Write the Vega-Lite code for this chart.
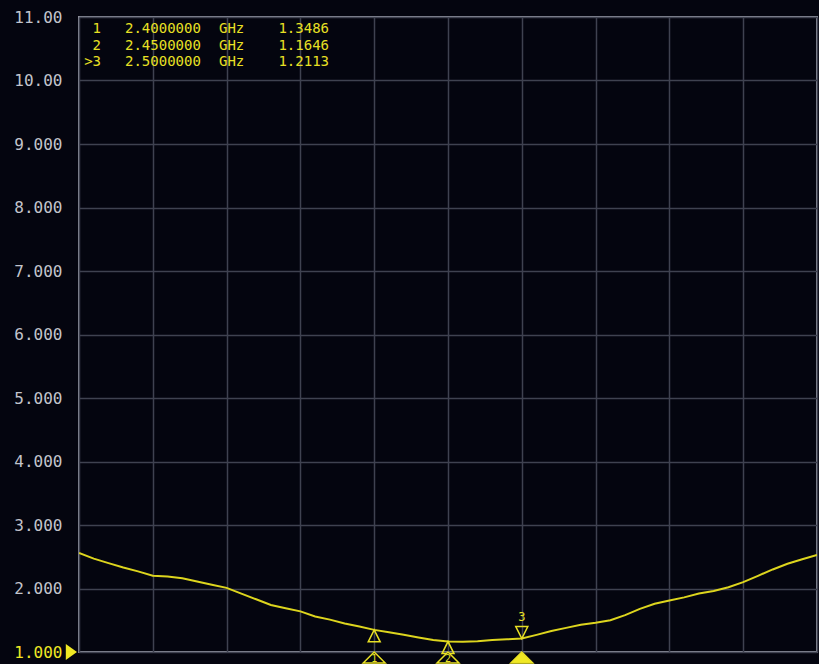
{
  "$schema": "https://vega.github.io/schema/vega-lite/v6.json",
  "width": 738,
  "height": 635,
  "autosize": {"type": "none"},
  "padding": {"left": 79, "top": 17, "right": 2, "bottom": 12},
  "background": "#04050f",
  "config": {
    "view": {"stroke": "#8e909c", "strokeWidth": 2, "fill": "#04050f"},
    "axis": {"gridColor": "#3f4250", "gridWidth": 1.5, "gridOpacity": 1}
  },
  "datasets": {
    "curve": [
      {"freq": 2.20, "swr": 2.56}, {"freq": 2.21, "swr": 2.47}, {"freq": 2.22, "swr": 2.40},
      {"freq": 2.23, "swr": 2.33}, {"freq": 2.24, "swr": 2.27}, {"freq": 2.25, "swr": 2.20},
      {"freq": 2.26, "swr": 2.19}, {"freq": 2.27, "swr": 2.16}, {"freq": 2.28, "swr": 2.11},
      {"freq": 2.29, "swr": 2.06}, {"freq": 2.30, "swr": 2.01}, {"freq": 2.31, "swr": 1.92},
      {"freq": 2.32, "swr": 1.83}, {"freq": 2.33, "swr": 1.74}, {"freq": 2.34, "swr": 1.69},
      {"freq": 2.35, "swr": 1.64}, {"freq": 2.36, "swr": 1.56}, {"freq": 2.37, "swr": 1.51},
      {"freq": 2.38, "swr": 1.45}, {"freq": 2.39, "swr": 1.40}, {"freq": 2.40, "swr": 1.3486},
      {"freq": 2.41, "swr": 1.31}, {"freq": 2.42, "swr": 1.27}, {"freq": 2.43, "swr": 1.23},
      {"freq": 2.44, "swr": 1.19}, {"freq": 2.45, "swr": 1.1646}, {"freq": 2.46, "swr": 1.16},
      {"freq": 2.47, "swr": 1.17}, {"freq": 2.48, "swr": 1.19}, {"freq": 2.49, "swr": 1.20},
      {"freq": 2.50, "swr": 1.2113}, {"freq": 2.51, "swr": 1.27}, {"freq": 2.52, "swr": 1.33},
      {"freq": 2.53, "swr": 1.38}, {"freq": 2.54, "swr": 1.43}, {"freq": 2.55, "swr": 1.46},
      {"freq": 2.56, "swr": 1.50}, {"freq": 2.57, "swr": 1.58}, {"freq": 2.58, "swr": 1.68},
      {"freq": 2.59, "swr": 1.76}, {"freq": 2.60, "swr": 1.81}, {"freq": 2.61, "swr": 1.86},
      {"freq": 2.62, "swr": 1.92}, {"freq": 2.63, "swr": 1.96}, {"freq": 2.64, "swr": 2.02},
      {"freq": 2.65, "swr": 2.10}, {"freq": 2.66, "swr": 2.20}, {"freq": 2.67, "swr": 2.30},
      {"freq": 2.68, "swr": 2.39}, {"freq": 2.69, "swr": 2.46}, {"freq": 2.70, "swr": 2.53}
    ],
    "markers": [
      {"m": "1", "label": "1", "freq": 2.40, "swr": 1.3486, "active": false},
      {"m": "2", "label": "2", "freq": 2.45, "swr": 1.1646, "active": false},
      {"m": "3", "label": ">3", "freq": 2.50, "swr": 1.2113, "active": true}
    ],
    "reference": [{"ref": 1}]
  },
  "resolve": {"scale": {"y": "independent"}},
  "layer": [
    {
      "data": {"name": "curve"},
      "mark": {"type": "line", "color": "#ddd51e", "strokeWidth": 2, "clip": true},
      "encoding": {
        "x": {
          "field": "freq", "type": "quantitative",
          "scale": {"domain": [2.2, 2.7], "nice": false, "zero": false},
          "axis": {"values": [2.2, 2.25, 2.3, 2.35, 2.4, 2.45, 2.5, 2.55, 2.6, 2.65, 2.7],
                   "labels": false, "ticks": false, "domain": false, "title": null, "grid": true}
        },
        "y": {
          "field": "swr", "type": "quantitative",
          "scale": {"domain": [1, 11], "nice": false, "zero": false},
          "axis": {
            "values": [1, 2, 3, 4, 5, 6, 7, 8, 9, 10, 11],
            "labelExpr": "datum.value >= 10 ? format(datum.value, '.2f') : format(datum.value, '.3f')",
            "labelFont": "DejaVu Sans Mono", "labelFontSize": 16,
            "labelColor": {"condition": {"test": "datum.value == 1", "value": "#f0e824"}, "value": "#c2c4cc"},
            "labelPadding": 17, "ticks": false, "domain": false, "title": null, "grid": true
          }
        }
      }
    },
    {
      "data": {"name": "markers"},
      "transform": [{"filter": "!datum.active"}],
      "mark": {"type": "point", "shape": "M-0.5,1L0,0L0.5,1Z", "size": 576, "filled": false, "stroke": "#e8e024", "strokeWidth": 1.5, "opacity": 1},
      "encoding": {
        "x": {"field": "freq", "type": "quantitative", "scale": {"domain": [2.2, 2.7], "nice": false, "zero": false}},
        "y": {"field": "swr", "type": "quantitative", "scale": {"domain": [1, 11], "nice": false, "zero": false}, "axis": null}
      }
    },
    {
      "data": {"name": "markers"},
      "transform": [{"filter": "datum.active"}],
      "mark": {"type": "point", "shape": "M-0.5,-1L0,0L0.5,-1Z", "size": 576, "filled": false, "stroke": "#e8e024", "strokeWidth": 1.5, "opacity": 1},
      "encoding": {
        "x": {"field": "freq", "type": "quantitative", "scale": {"domain": [2.2, 2.7], "nice": false, "zero": false}},
        "y": {"field": "swr", "type": "quantitative", "scale": {"domain": [1, 11], "nice": false, "zero": false}, "axis": null}
      }
    },
    {
      "data": {"name": "markers"},
      "transform": [{"filter": "datum.active"}],
      "mark": {"type": "text", "font": "DejaVu Sans Mono", "fontSize": 12, "color": "#e8e024", "dy": -22, "baseline": "middle"},
      "encoding": {
        "x": {"field": "freq", "type": "quantitative", "scale": {"domain": [2.2, 2.7], "nice": false, "zero": false}},
        "y": {"field": "swr", "type": "quantitative", "scale": {"domain": [1, 11], "nice": false, "zero": false}, "axis": null},
        "text": {"field": "m"}
      }
    },
    {
      "data": {"name": "markers"},
      "mark": {"type": "point", "shape": "M-1,1L0,0L1,1Z", "size": 484, "strokeWidth": 1.5, "stroke": "#e8e024", "opacity": 1, "filled": true},
      "encoding": {
        "x": {"field": "freq", "type": "quantitative", "scale": {"domain": [2.2, 2.7], "nice": false, "zero": false}},
        "y": {"datum": 1, "type": "quantitative", "scale": {"domain": [1, 11], "nice": false, "zero": false}, "axis": null},
        "fill": {"condition": {"test": "datum.active", "value": "#f0e824"}, "value": "#04050f"}
      }
    },
    {
      "data": {"name": "markers"},
      "transform": [{"filter": "!datum.active"}],
      "mark": {"type": "text", "font": "DejaVu Sans Mono", "fontSize": 10, "color": "#e8e024", "dy": 7, "baseline": "middle"},
      "encoding": {
        "x": {"field": "freq", "type": "quantitative", "scale": {"domain": [2.2, 2.7], "nice": false, "zero": false}},
        "y": {"datum": 1, "type": "quantitative", "scale": {"domain": [1, 11], "nice": false, "zero": false}, "axis": null},
        "text": {"field": "m"}
      }
    },
    {
      "data": {"name": "reference"},
      "mark": {"type": "point", "shape": "M-1.4,-1L0,0L-1.4,1Z", "size": 256, "filled": true, "fill": "#f0e824", "stroke": null, "opacity": 1, "xOffset": -2, "clip": false},
      "encoding": {
        "x": {"datum": 2.2, "type": "quantitative", "scale": {"domain": [2.2, 2.7], "nice": false, "zero": false}},
        "y": {"field": "ref", "type": "quantitative", "scale": {"domain": [1, 11], "nice": false, "zero": false}, "axis": null}
      }
    },
    {
      "data": {"name": "markers"},
      "mark": {"type": "text", "font": "DejaVu Sans Mono", "fontSize": 14, "color": "#e8e024", "align": "right", "baseline": "middle", "dx": 22},
      "encoding": {
        "x": {"datum": 2.2, "type": "quantitative", "scale": {"domain": [2.2, 2.7], "nice": false, "zero": false}},
        "y": {"field": "m", "type": "ordinal", "scale": {"type": "point", "domain": ["1", "2", "3"], "range": [12, 45], "padding": 0}, "axis": null},
        "text": {"field": "label"}
      }
    },
    {
      "data": {"name": "markers"},
      "mark": {"type": "text", "font": "DejaVu Sans Mono", "fontSize": 14, "color": "#e8e024", "align": "left", "baseline": "middle", "dx": 46},
      "encoding": {
        "x": {"datum": 2.2, "type": "quantitative", "scale": {"domain": [2.2, 2.7], "nice": false, "zero": false}},
        "y": {"field": "m", "type": "ordinal", "scale": {"type": "point", "domain": ["1", "2", "3"], "range": [12, 45], "padding": 0}, "axis": null},
        "text": {"field": "freq", "type": "quantitative", "format": ".7f"}
      }
    },
    {
      "data": {"name": "markers"},
      "mark": {"type": "text", "font": "DejaVu Sans Mono", "fontSize": 14, "color": "#e8e024", "align": "left", "baseline": "middle", "dx": 140, "text": "GHz"},
      "encoding": {
        "x": {"datum": 2.2, "type": "quantitative", "scale": {"domain": [2.2, 2.7], "nice": false, "zero": false}},
        "y": {"field": "m", "type": "ordinal", "scale": {"type": "point", "domain": ["1", "2", "3"], "range": [12, 45], "padding": 0}, "axis": null}
      }
    },
    {
      "data": {"name": "markers"},
      "mark": {"type": "text", "font": "DejaVu Sans Mono", "fontSize": 14, "color": "#e8e024", "align": "right", "baseline": "middle", "dx": 250},
      "encoding": {
        "x": {"datum": 2.2, "type": "quantitative", "scale": {"domain": [2.2, 2.7], "nice": false, "zero": false}},
        "y": {"field": "m", "type": "ordinal", "scale": {"type": "point", "domain": ["1", "2", "3"], "range": [12, 45], "padding": 0}, "axis": null},
        "text": {"field": "swr", "type": "quantitative", "format": ".4f"}
      }
    }
  ]
}
